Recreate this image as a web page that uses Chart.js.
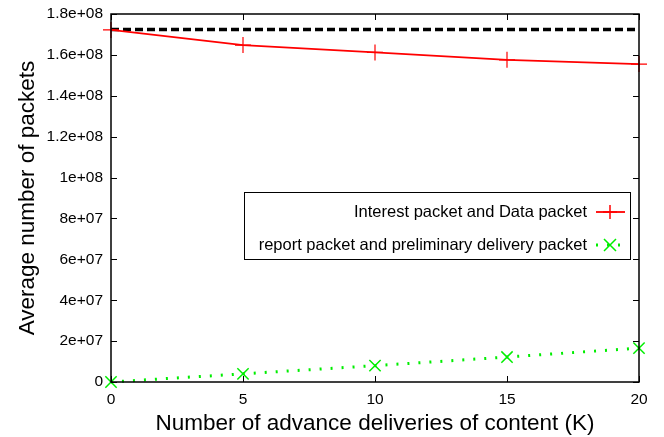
<!DOCTYPE html>
<html lang="en">
<head>
    <meta charset="UTF-8">
    <title>Average number of packets</title>
    <script src="https://cdn.jsdelivr.net/npm/chart.js"></script>
    <style>
        html, body { margin: 0; padding: 0; background: #fff; }
        #wrap { width: 664px; height: 437px; position: relative; }
    </style>
</head>
<body>
<div id="wrap"><canvas id="packetChart" width="664" height="437"></canvas></div>
<script>
    // data
    const kValues = [0, 5, 10, 15, 20];
    const interestData = [1.722e8, 1.648e8, 1.612e8, 1.576e8, 1.555e8];
    const reportData = [0, 4.0e6, 8.0e6, 1.22e7, 1.66e7];
    const baselineData = [1.724e8, 1.724e8, 1.724e8, 1.724e8, 1.724e8];
    const yTicks = [0, 2e7, 4e7, 6e7, 8e7, 1e8, 1.2e8, 1.4e8, 1.6e8, 1.8e8];
    const xTicks = [0, 5, 10, 15, 20];

    const FONT = '"Liberation Sans", Arial, sans-serif';

    function fmtY(v) {
        if (v === 0) return '0';
        const exp = Math.floor(Math.log10(v) + 1e-9);
        const mant = +(v / Math.pow(10, exp)).toFixed(1);
        return mant + 'e+' + String(exp).padStart(2, '0');
    }

    function toPoints(arr) {
        return kValues.map((k, i) => ({ x: k, y: arr[i] }));
    }

    // gnuplot-like frame with inward ticks on all four sides
    const framePlugin = {
        id: 'frame',
        afterDatasetsDraw(chart) {
            const { ctx, chartArea: a, scales } = chart;
            ctx.save();
            ctx.strokeStyle = '#000';
            ctx.lineWidth = 1.5;
            ctx.strokeRect(a.left, a.top, a.right - a.left, a.bottom - a.top);
            ctx.lineWidth = 1;
            yTicks.forEach(v => {
                const y = Math.round(scales.y.getPixelForValue(v)) + 0.5;
                ctx.beginPath();
                ctx.moveTo(a.left, y); ctx.lineTo(a.left + 6, y);
                ctx.moveTo(a.right, y); ctx.lineTo(a.right - 6, y);
                ctx.stroke();
            });
            xTicks.forEach(v => {
                const x = Math.round(scales.x.getPixelForValue(v)) + 0.5;
                ctx.beginPath();
                ctx.moveTo(x, a.bottom); ctx.lineTo(x, a.bottom - 6);
                ctx.moveTo(x, a.top); ctx.lineTo(x, a.top + 6);
                ctx.stroke();
            });
            ctx.restore();
        }
    };

    // key box in the gnuplot style: text right-aligned, sample on the right
    const keyPlugin = {
        id: 'key',
        afterDraw(chart) {
            const { ctx } = chart;
            const box = { left: 244, top: 192, right: 630, bottom: 259 };
            ctx.save();
            ctx.fillStyle = '#fff';
            ctx.fillRect(box.left, box.top, box.right - box.left, box.bottom - box.top);
            ctx.strokeStyle = '#000';
            ctx.lineWidth = 1;
            ctx.strokeRect(box.left + 0.5, box.top + 0.5, box.right - box.left, box.bottom - box.top);
            ctx.font = '16.5px ' + FONT;
            ctx.textAlign = 'right';
            ctx.textBaseline = 'middle';
            const rows = [0, 1].map(i => chart.data.datasets[i]);
            rows.forEach((ds, i) => {
                const y = box.top + 20 + i * 33;
                ctx.fillStyle = '#000';
                ctx.fillText(ds.label, 587, y);
                ctx.strokeStyle = ds.borderColor;
                ctx.lineWidth = ds.borderWidth;
                ctx.setLineDash(ds.borderDash || []);
                ctx.beginPath();
                ctx.moveTo(596, y); ctx.lineTo(625, y);
                ctx.stroke();
                ctx.setLineDash([]);
                ctx.lineWidth = 1.5;
                const cx = 610;
                ctx.beginPath();
                if (ds.pointStyle === 'cross') {
                    ctx.moveTo(cx - 7, y); ctx.lineTo(cx + 7, y);
                    ctx.moveTo(cx, y - 7); ctx.lineTo(cx, y + 7);
                } else {
                    ctx.moveTo(cx - 6, y - 6); ctx.lineTo(cx + 6, y + 6);
                    ctx.moveTo(cx - 6, y + 6); ctx.lineTo(cx + 6, y - 6);
                }
                ctx.stroke();
            });
            ctx.restore();
        }
    };

    const ctx = document.getElementById('packetChart').getContext('2d');
    new Chart(ctx, {
        type: 'line',
        data: {
            datasets: [
                {
                    label: 'Interest packet and Data packet',
                    data: toPoints(interestData),
                    borderColor: '#ff0000',
                    backgroundColor: '#ff0000',
                    borderWidth: 1.8,
                    pointStyle: 'cross',
                    pointRadius: 8,
                    pointBorderWidth: 1.2,
                    fill: false,
                    tension: 0
                },
                {
                    label: 'report packet and preliminary delivery packet',
                    data: toPoints(reportData),
                    borderColor: '#00ee00',
                    backgroundColor: '#00ee00',
                    borderWidth: 3,
                    borderDash: [2, 9],
                    pointStyle: 'crossRot',
                    pointRadius: 8,
                    pointBorderWidth: 1.5,
                    fill: false,
                    tension: 0
                },
                {
                    label: 'baseline',
                    data: toPoints(baselineData),
                    borderColor: '#000000',
                    borderWidth: 3.5,
                    borderDash: [8, 4],
                    pointRadius: 0,
                    fill: false,
                    tension: 0
                }
            ]
        },
        options: {
            responsive: false,
            animation: false,
            clip: false,
            layout: { padding: { left: 0, right: 25, top: 14, bottom: 0 } },
            plugins: {
                legend: { display: false },
                tooltip: { enabled: false }
            },
            scales: {
                x: {
                    type: 'linear',
                    min: 0,
                    max: 20,
                    afterBuildTicks(scale) { scale.ticks = xTicks.map(v => ({ value: v })); },
                    afterFit(scale) {
                        scale.height = 55;
                        scale.paddingLeft = 0;
                        scale.paddingRight = 0;
                    },
                    grid: { display: false, drawTicks: false },
                    border: { display: false },
                    ticks: {
                        color: '#000',
                        font: { family: FONT, size: 15.5 },
                        padding: 8,
                        maxRotation: 0
                    },
                    title: {
                        display: true,
                        text: 'Number of advance deliveries of content (K)',
                        color: '#000',
                        font: { family: FONT, size: 22.5 },
                        padding: { top: 3, bottom: 0 }
                    }
                },
                y: {
                    min: 0,
                    max: 1.8e8,
                    afterBuildTicks(scale) { scale.ticks = yTicks.map(v => ({ value: v })); },
                    afterFit(scale) {
                        scale.width = 111;
                        scale.paddingTop = 0;
                        scale.paddingBottom = 0;
                    },
                    grid: { display: false, drawTicks: false },
                    border: { display: false },
                    ticks: {
                        color: '#000',
                        font: { family: FONT, size: 15.5 },
                        padding: 8,
                        callback: v => fmtY(v)
                    },
                    title: {
                        display: true,
                        text: 'Average number of packets',
                        color: '#000',
                        font: { family: FONT, size: 22.5 },
                        padding: { top: 14, bottom: 0 }
                    }
                }
            }
        },
        plugins: [framePlugin, keyPlugin]
    });
</script>
</body>
</html>
